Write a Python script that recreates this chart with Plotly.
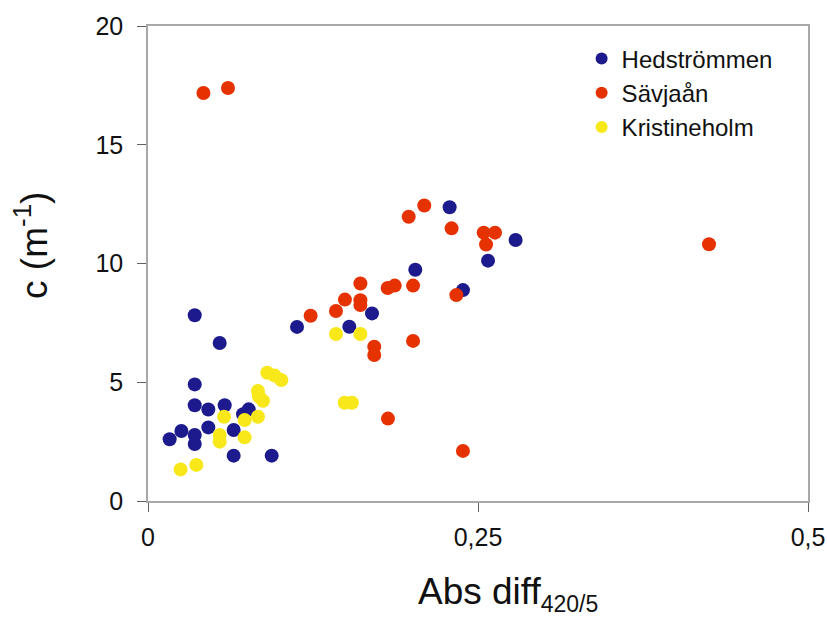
import plotly.graph_objects as go

hed_x = [0.2285, 0.2785, 0.2576, 0.2025, 0.2386, 0.1697, 0.1129, 0.1525, 0.0354, 0.0543,
         0.0354, 0.0354, 0.0457, 0.0581, 0.0720, 0.0763, 0.0457, 0.0253, 0.0354, 0.0164,
         0.0354, 0.0649, 0.0649, 0.0937]
hed_y = [12.37, 10.99, 10.12, 9.74, 8.88, 7.90, 7.33, 7.34, 7.82, 6.65,
         4.91, 4.03, 3.85, 4.03, 3.65, 3.86, 3.10, 2.95, 2.78, 2.60,
         2.40, 2.99, 1.91, 1.91]

sav_x = [0.2093, 0.1975, 0.2300, 0.2543, 0.2629, 0.2561, 0.2336, 0.1609, 0.1816, 0.1869,
         0.2008, 0.1492, 0.1609, 0.1609, 0.1424, 0.1232, 0.1714, 0.1714, 0.2008, 0.1818,
         0.2386, 0.0420, 0.0606, 0.4250]
sav_y = [12.44, 11.97, 11.48, 11.30, 11.30, 10.80, 8.67, 9.16, 8.97, 9.07,
         9.07, 8.48, 8.45, 8.25, 8.00, 7.80, 6.50, 6.15, 6.74, 3.47,
         2.11, 17.18, 17.39, 10.81]

kri_x = [0.1424, 0.1609, 0.1490, 0.1545, 0.0904, 0.0960, 0.1010, 0.0833, 0.0871, 0.0840,
         0.0833, 0.0732, 0.0576, 0.0732, 0.0543, 0.0543, 0.0366, 0.0247]
kri_y = [7.03, 7.03, 4.14, 4.14, 5.40, 5.28, 5.09, 4.63, 4.22, 4.40,
         3.55, 3.41, 3.55, 2.68, 2.78, 2.50, 1.52, 1.33]

x_ticks = [0, 0.25, 0.5]
x_ticktext = ["0", "0,25", "0,5"]
y_ticks = [0, 5, 10, 15, 20]
x_title = "Abs diff<sub><span style='font-size:23px'>420/5</span></sub>"
y_title = "c (m<sup>-1</sup>)"

series = [
    ("Hedströmmen", hed_x, hed_y, "#1c1a8c"),
    ("Sävjaån", sav_x, sav_y, "#e63200"),
    ("Kristineholm", kri_x, kri_y, "#f8e81a"),
]

fig = go.Figure()
for name, xs, ys, col in series:
    fig.add_trace(go.Scatter(
        x=xs, y=ys, mode="markers", name=name,
        marker=dict(size=14, color=col, line=dict(width=0)),
    ))

axis_common = dict(
    showgrid=False, zeroline=False, showline=True, linecolor="#a8a8a8", linewidth=1.5,
    mirror=True, ticks="outside", tickcolor="#606060", ticklen=9, tickwidth=1,
    automargin=False, ticklabeloverflow="allow",
    tickfont=dict(family="Liberation Sans, Arial", size=25, color="#111111"),
)

fig.update_layout(
    width=827, height=619,
    margin=dict(l=148, r=19, t=26, b=118),
    paper_bgcolor="white", plot_bgcolor="white",
    font=dict(family="Liberation Sans, Arial", color="#111111"),
    xaxis=dict(range=[0, 0.5], tickvals=x_ticks, ticktext=x_ticktext,
               ticklabelstandoff=4, **axis_common),
    yaxis=dict(range=[0, 20], tickvals=y_ticks, ticklabelstandoff=9,
               **axis_common),
    legend=dict(x=0.657, y=0.978, xanchor="left", yanchor="top",
                font=dict(size=24, color="#111111"), bgcolor="rgba(0,0,0,0)",
                itemsizing="constant", tracegroupgap=0),
    showlegend=True,
)

# axis titles as annotations (reference centres the main word, not the subscript)
fig.add_annotation(text=x_title, xref="paper", yref="paper", x=0.406, y=0,
                   xanchor="left", yanchor="top", yshift=-68, showarrow=False,
                   font=dict(size=37, color="#111111"))
fig.add_annotation(text=y_title, xref="paper", yref="paper", x=0, y=0.537,
                   xanchor="center", yanchor="middle", xshift=-116, textangle=-90,
                   showarrow=False, font=dict(size=37, color="#111111"))

fig.write_html("out.html")
